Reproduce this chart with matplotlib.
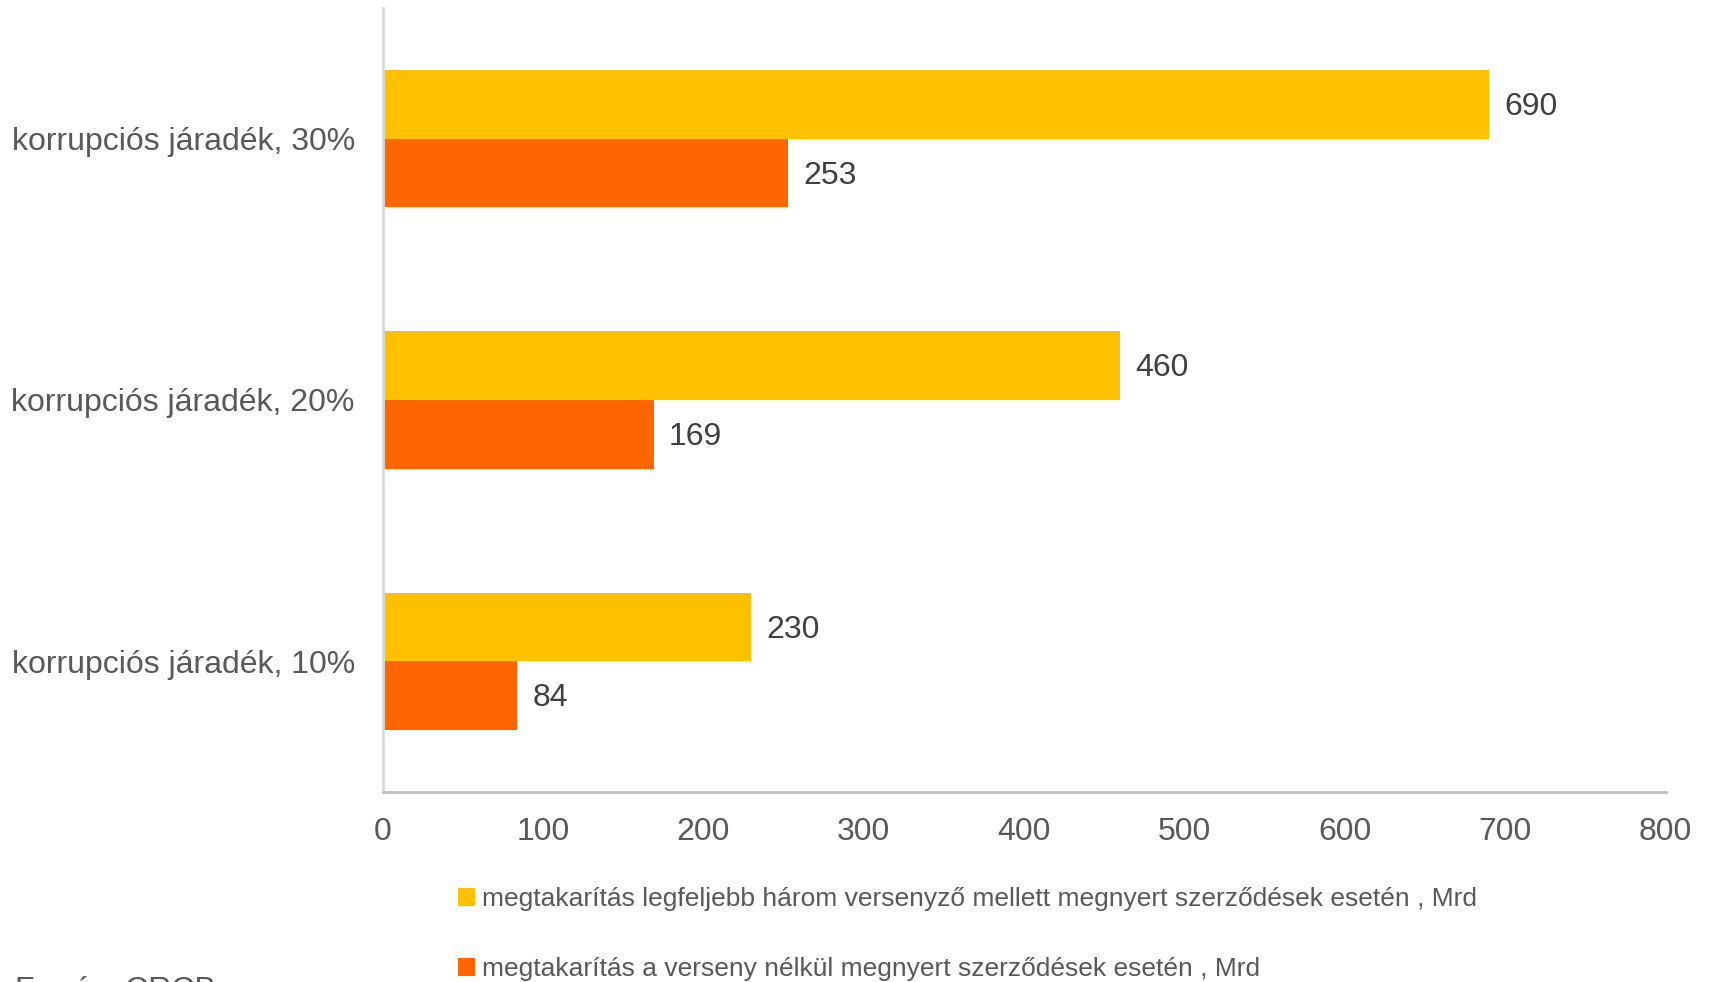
import matplotlib.pyplot as plt
import numpy as np

plt.rcParams['font.family'] = ['Liberation Sans', 'DejaVu Sans']

categories = ["korrupciós járadék, 10%", "korrupciós járadék, 20%", "korrupciós járadék, 30%"]
max_three = [230, 460, 690]
no_comp = [84, 169, 253]
series_labels = [
    "megtakarítás legfeljebb három versenyző mellett megnyert szerződések esetén , Mrd",
    "megtakarítás a verseny nélkül megnyert szerződések esetén , Mrd",
]

YELLOW = "#FFC000"
ORANGE = "#FF6600"
GREY_TXT = "#595959"

fig = plt.figure(figsize=(17.09, 9.82), dpi=100)
ax = fig.add_axes([0.2239, 0.1935, 0.7507, 0.7984])

y = np.arange(len(categories))
h = 0.263
b1 = ax.barh(y + h / 2, max_three, height=h, color=YELLOW, label=series_labels[0])
b2 = ax.barh(y - h / 2, no_comp, height=h, color=ORANGE, label=series_labels[1])

# value labels just right of each bar
for bars, vals in ((b1, max_three), (b2, no_comp)):
    for bar, v in zip(bars, vals):
        ax.annotate(f"{v}", (v, bar.get_y() + bar.get_height() / 2),
                    xytext=(11, -2), textcoords="offset points",
                    ha="left", va="center", fontsize=23, color="#404040")

ax.set_xlim(0, 800)
ax.set_ylim(-0.5, 2.5)
ax.set_xticks(np.arange(0, 801, 100))
ax.set_yticks(y)
ax.set_yticklabels(categories)
ax.tick_params(axis="both", length=0, labelsize=23, colors=GREY_TXT)
ax.tick_params(axis="x", pad=18)
ax.tick_params(axis="y", pad=20)

for s in ("top", "right"):
    ax.spines[s].set_visible(False)
ax.spines["left"].set_color("#D9D9D9")
ax.spines["left"].set_linewidth(2)
ax.spines["bottom"].set_color("#BFBFBF")
ax.spines["bottom"].set_linewidth(2)

leg = fig.legend(handles=[b1, b2], loc="upper left",
                 bbox_to_anchor=(458 / 1709, 1 - 887 / 982),
                 frameon=False, fontsize=19, labelcolor=GREY_TXT,
                 handlelength=0.65, handleheight=0.65, handletextpad=0.25,
                 labelspacing=1.75, borderpad=0, borderaxespad=0)

# source note, cropped at the bottom edge as in the original export
fig.text(15 / 1709, 1 - 976 / 982, "Forrás: CRCB", ha="left", va="top",
         fontsize=23, color=GREY_TXT)

fig.savefig("out.png", dpi=100)
